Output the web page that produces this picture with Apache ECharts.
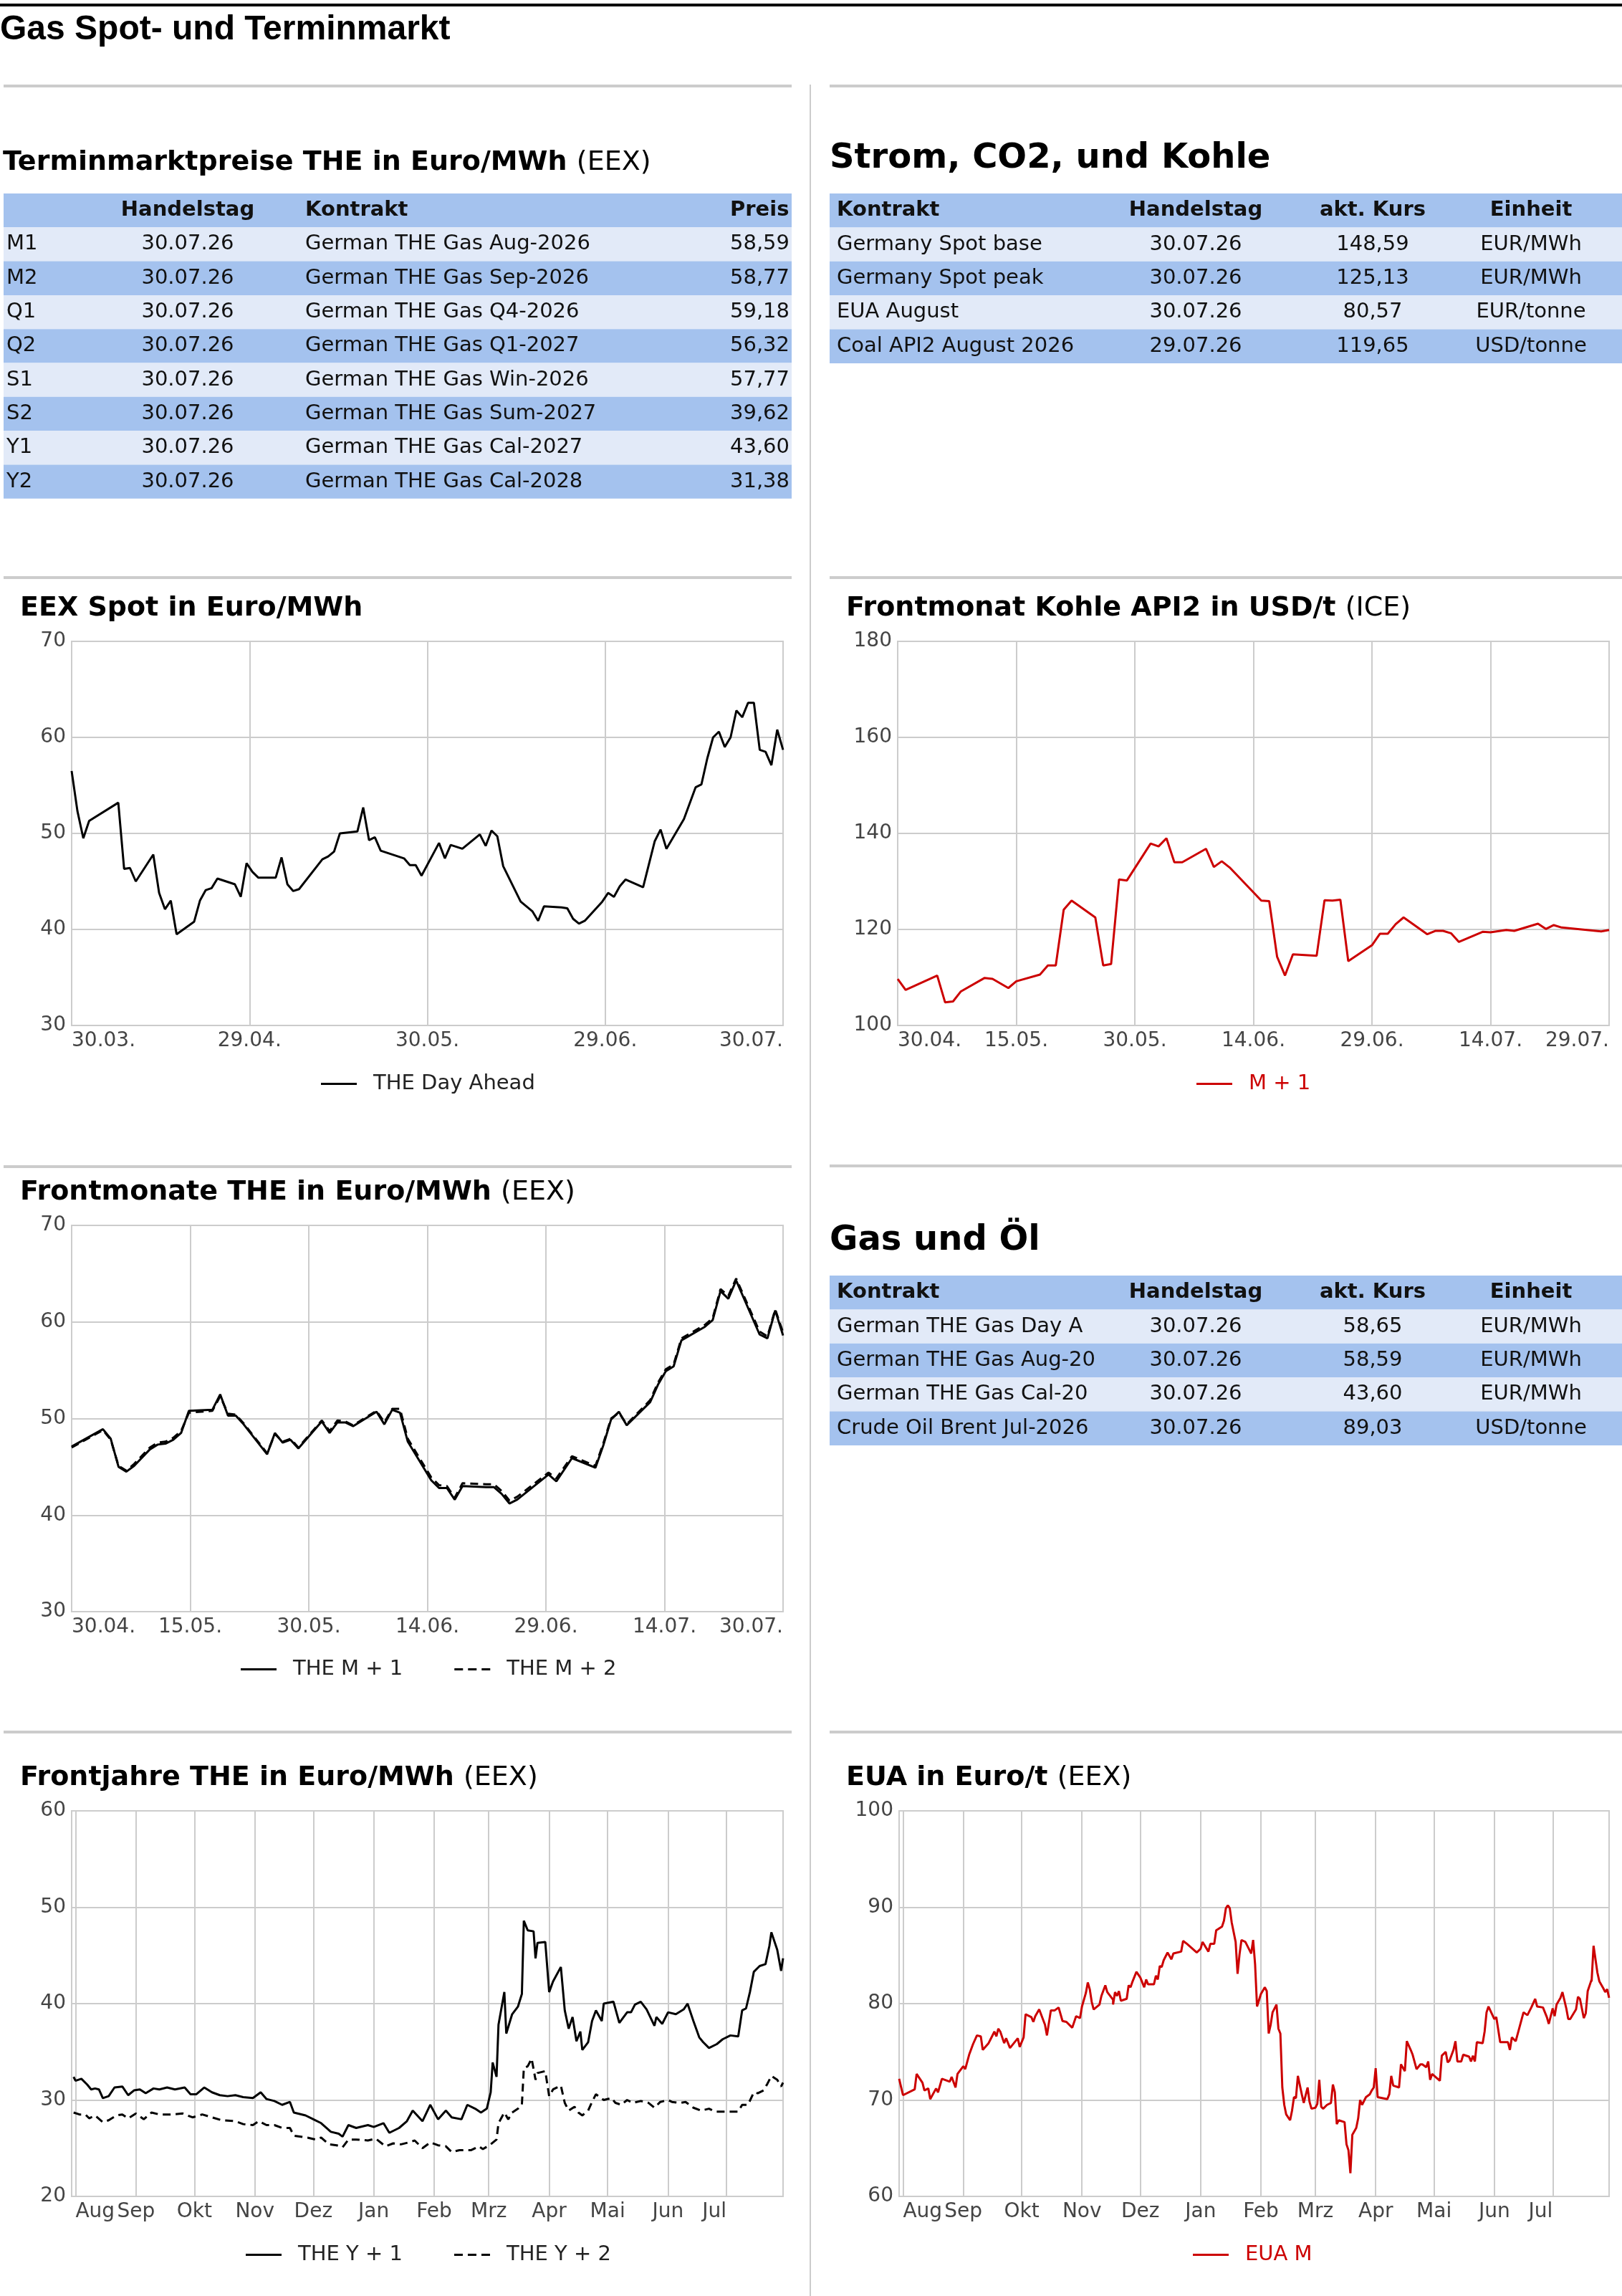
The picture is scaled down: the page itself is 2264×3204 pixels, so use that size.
<!DOCTYPE html>
<html>
<head>
<meta charset="utf-8">
<title>Gas Spot- und Terminmarkt</title>
<script src="https://cdn.jsdelivr.net/npm/echarts@6/dist/echarts.min.js"></script>
<style>
html, body { margin: 0; padding: 0; background: #fff; }
#main { width: 2264px; height: 3204px; }
</style>
</head>
<body>
<div id="main"></div>
<script>
// ---------- Tabellen ----------
var termHeader = ['', 'Handelstag', 'Kontrakt', 'Preis'];
var termLabel = ['M1', 'M2', 'Q1', 'Q2', 'S1', 'S2', 'Y1', 'Y2'];
var termDatum = ['30.07.26', '30.07.26', '30.07.26', '30.07.26', '30.07.26', '30.07.26', '30.07.26', '30.07.26'];
var termKontrakt = ['German THE Gas Aug-2026', 'German THE Gas Sep-2026', 'German THE Gas Q4-2026', 'German THE Gas Q1-2027',
    'German THE Gas Win-2026', 'German THE Gas Sum-2027', 'German THE Gas Cal-2027', 'German THE Gas Cal-2028'];
var termPreis = ['58,59', '58,77', '59,18', '56,32', '57,77', '39,62', '43,60', '31,38'];

var kursHeader = ['Kontrakt', 'Handelstag', 'akt. Kurs', 'Einheit'];
var stromKontrakt = ['Germany Spot base', 'Germany Spot peak', 'EUA August', 'Coal API2 August 2026'];
var stromDatum = ['30.07.26', '30.07.26', '30.07.26', '29.07.26'];
var stromKurs = ['148,59', '125,13', '80,57', '119,65'];
var stromEinheit = ['EUR/MWh', 'EUR/MWh', 'EUR/tonne', 'USD/tonne'];

var gasKontrakt = ['German THE Gas Day Ahead', 'German THE Gas Aug-2026', 'German THE Gas Cal-2027', 'Crude Oil Brent Jul-2026'];
var gasDatum = ['30.07.26', '30.07.26', '30.07.26', '30.07.26'];
var gasKurs = ['58,65', '58,59', '43,60', '89,03'];
var gasEinheit = ['EUR/MWh', 'EUR/MWh', 'EUR/MWh', 'USD/tonne'];

// ---------- Charts: x = Tage seit Startdatum ----------
var monate = ['Jan', 'Feb', 'Mrz', 'Apr', 'Mai', 'Jun', 'Jul', 'Aug', 'Sep', 'Okt', 'Nov', 'Dez'];

// EEX Spot, ab 30.03.2026
var spotTage = [0, 1, 2, 3, 8, 9, 10, 11, 14, 15, 16, 17, 18, 21, 22, 23, 24, 25, 28, 29, 30, 31, 32, 35, 36, 37, 38, 39,
    43, 44, 45, 46, 49, 50, 51, 52, 53, 57, 58, 59, 60, 63, 64, 65, 67, 70, 71, 72, 73, 74, 77, 79, 80, 81, 84, 85, 86, 87, 88,
    91, 92, 93, 94, 95, 98, 100, 101, 102, 105, 107, 108, 109, 110, 111, 112, 113, 114, 115, 116, 117, 118, 119, 120, 121, 122];
var spotDayAhead = [56.5, 52.3, 49.5, 51.3, 53.2, 46.3, 46.4, 45.0, 47.8, 43.8, 42.1, 43.0, 39.5, 40.8, 43.0, 44.1, 44.3, 45.3, 44.7, 43.4, 46.9, 46.0, 45.4, 45.4, 47.5, 44.7, 44.0, 44.2,
    47.3, 47.6, 48.1, 50.0, 50.2, 52.7, 49.3, 49.6, 48.2, 47.4, 46.7, 46.7, 45.6, 49.0, 47.4, 48.8, 48.4, 49.9, 48.7, 50.3, 49.7, 46.6, 42.9, 41.9, 40.9, 42.4, 42.3, 42.2, 41.1, 40.6, 40.9,
    42.9, 43.8, 43.4, 44.5, 45.2, 44.4, 49.2, 50.4, 48.4, 51.5, 54.8, 55.1, 57.8, 60.0, 60.6, 59.0, 60.0, 62.8, 62.1, 63.6, 63.6, 58.7, 58.5, 57.1, 60.8, 58.7];

// Kohle API2 Frontmonat, ab 30.04.2026
var kohleTage = [0, 1, 5, 6, 7, 8, 11, 12, 14, 15, 18, 19, 20, 21, 22, 25, 26, 27, 28, 29, 32, 33, 34, 35, 36, 39, 40, 41, 42,
    46, 47, 48, 49, 50, 53, 54, 55, 56, 57, 60, 61, 62, 63, 64, 67, 68, 69, 70, 71, 74, 75, 77, 78, 81, 82, 83, 84, 89, 90];
var kohleM1 = [109.7, 107.4, 110.4, 104.8, 105.0, 107.1, 109.9, 109.7, 107.8, 109.2, 110.6, 112.5, 112.5, 124.1, 126.0, 122.5, 112.5, 112.8, 130.4, 130.2, 137.9, 137.3, 139.0, 134.0, 134.0, 136.8, 133.0, 134.2, 132.9,
    126.0, 125.9, 114.3, 110.4, 114.8, 114.5, 126.1, 126.0, 126.2, 113.4, 116.7, 119.1, 119.1, 121.1, 122.5, 119.0, 119.7, 119.7, 119.2, 117.4, 119.5, 119.4, 119.9, 119.7, 121.2, 120.1, 120.9, 120.4, 119.6, 119.9];

// Frontmonate THE, ab 30.04.2026
var frontTage = [0, 4, 5, 6, 7, 8, 10, 11, 12, 13, 14, 15, 18, 19, 20, 21, 22, 25, 26, 27, 28, 29, 32, 33, 34, 35, 36, 39, 40, 41, 42, 43,
    46, 47, 48, 49, 50, 53, 54, 55, 56, 57, 61, 62, 64, 67, 68, 69, 70, 71, 74, 75, 76, 77, 78, 81, 82, 83, 84, 85, 88, 89, 90, 91];
var frontM1 = [47.1, 48.9, 47.9, 45.0, 44.5, 45.1, 46.8, 47.3, 47.4, 47.8, 48.5, 50.8, 50.9, 52.5, 50.3, 50.3, 49.4, 46.3, 48.5, 47.5, 47.8, 46.9, 49.7, 48.5, 49.6, 49.6, 49.2, 50.7, 49.4, 50.9, 50.6, 47.6,
    43.6, 42.8, 42.8, 41.6, 43.0, 42.9, 42.9, 42.2, 41.2, 41.6, 44.2, 43.5, 45.9, 44.9, 47.2, 49.9, 50.7, 49.3, 51.7, 53.5, 54.9, 55.4, 58.1, 59.5, 60.2, 63.2, 62.4, 64.3, 58.7, 58.3, 61.2, 58.6];
var frontM2 = [47.0, 48.8, 47.8, 45.1, 44.6, 45.3, 47.0, 47.5, 47.6, 48.0, 48.7, 50.6, 50.8, 52.3, 50.5, 50.4, 49.5, 46.4, 48.4, 47.6, 47.9, 47.0, 49.8, 48.7, 49.8, 49.7, 49.3, 50.8, 49.6, 51.0, 51.0, 47.9,
    43.9, 43.1, 43.0, 41.8, 43.3, 43.2, 43.2, 42.5, 41.5, 41.9, 44.4, 43.8, 46.1, 45.1, 47.4, 50.0, 50.6, 49.4, 51.9, 53.7, 55.1, 55.6, 58.3, 59.7, 60.4, 63.4, 62.7, 64.5, 59.0, 58.5, 61.3, 58.9];

// Frontjahre THE, ab 30.07.2025
var jahrY1Tage = [1, 2, 5, 8, 10, 12, 14, 16, 19, 22, 26, 29, 32, 35, 38, 42, 45, 49, 53, 58, 61, 64, 68, 72, 76, 80, 84, 88, 93, 97,
    100, 104, 108, 112, 114, 120, 124, 128, 133, 137, 139, 142, 146, 152, 155, 160, 163, 168, 172, 175, 180, 184, 188, 192, 195, 200,
    203, 207, 210, 213, 215, 216, 218, 219, 222, 223, 226, 229, 231, 232, 234, 237, 238, 239, 243, 245, 247, 251, 253, 255, 257, 259,
    261, 262, 265, 267, 269, 272, 273, 278, 281, 285, 287, 289, 292, 295, 299, 300, 303, 306, 310, 314, 316, 319, 322, 324, 327, 331,
    334, 338, 342, 344, 346, 348, 350, 353, 356, 358, 359, 362, 364, 365];
var jahrY1 = [32.4, 32.0, 32.2, 31.6, 31.1, 31.2, 31.1, 30.2, 30.4, 31.3, 31.4, 30.5, 31.0, 31.1, 30.7, 31.2, 31.1, 31.3, 31.1, 31.3, 30.6, 30.6, 31.3, 30.8, 30.5, 30.4, 30.5, 30.3, 30.2, 30.8,
    30.1, 29.9, 29.5, 29.8, 28.7, 28.4, 28.0, 27.6, 26.7, 26.5, 26.2, 27.4, 27.1, 27.4, 27.2, 27.6, 26.6, 27.1, 27.8, 28.9, 27.8, 29.5, 28.0, 28.9, 28.2, 28.0,
    29.5, 29.1, 28.7, 29.1, 30.8, 33.9, 32.4, 37.8, 41.2, 36.9, 38.9, 39.7, 41.0, 48.6, 47.6, 47.5, 44.7, 46.3, 46.4, 41.2, 42.3, 43.8, 39.3, 37.4, 38.6, 36.1,
    37.1, 35.2, 36.0, 38.2, 39.3, 38.2, 40.0, 40.2, 38.0, 39.1, 39.1, 39.9, 40.2, 39.4, 37.7, 38.6, 37.9, 39.1, 38.9, 39.4, 40.0, 38.2, 36.5, 36.0, 35.4, 35.8,
    36.3, 36.7, 36.6, 39.3, 39.5, 41.2, 43.3, 43.9, 44.1, 46.0, 47.4, 45.6, 43.4, 44.7];
var jahrY2Tage = [1, 4, 7, 9, 12, 16, 19, 23, 26, 29, 33, 37, 41, 45, 51, 57, 62, 67, 72, 77, 84, 88, 93, 96, 100, 104, 108, 112, 114, 121,
    125, 128, 132, 136, 139, 142, 146, 152, 156, 161, 165, 169, 173, 176, 180, 184, 188, 192, 195, 199, 205, 209, 211, 215, 218, 219,
    222, 224, 226, 229, 231, 232, 234, 236, 238, 239, 243, 245, 247, 251, 253, 255, 258, 260, 262, 265, 267, 269, 273, 277, 279, 282,
    285, 288, 292, 296, 299, 302, 306, 308, 312, 315, 319, 323, 327, 330, 334, 338, 342, 344, 347, 350, 352, 355, 357, 359, 362, 364, 365];
var jahrY2 = [28.7, 28.5, 28.5, 28.1, 28.4, 27.7, 27.9, 28.4, 28.5, 28.1, 28.6, 28.0, 28.7, 28.5, 28.5, 28.6, 28.2, 28.5, 28.2, 27.9, 27.8, 27.5, 27.4, 27.8, 27.4, 27.4, 27.1, 27.1, 26.3, 26.1,
    25.9, 26.1, 25.4, 25.3, 25.1, 25.9, 25.9, 25.8, 26.0, 25.2, 25.5, 25.4, 25.6, 25.8, 25.0, 25.6, 25.3, 25.2, 24.6, 24.8, 24.8, 25.2, 24.9, 25.4, 25.9, 27.6,
    28.7, 28.0, 28.7, 29.1, 29.5, 33.3, 33.5, 34.3, 32.1, 32.8, 33.0, 30.4, 31.1, 31.5, 29.7, 28.9, 29.3, 28.7, 28.4, 28.9, 29.8, 30.6, 30.0, 30.2, 29.7, 29.5,
    30.0, 29.7, 29.9, 29.7, 29.2, 29.8, 30.0, 29.8, 29.7, 29.8, 29.2, 28.9, 29.1, 28.8, 28.8, 28.8, 28.8, 29.5, 29.5, 30.8, 30.7, 31.0, 31.7, 32.5, 32.1, 31.4, 31.8];

// EUA, ab 30.07.2025
var euaTage = [0, 2, 8, 9, 12, 13, 15, 16, 19, 20, 22, 26, 27, 29, 30, 33, 34, 36, 38, 40, 42, 43, 46, 47, 49, 50, 51, 52, 54, 55, 57,
    61, 62, 64, 65, 68, 69, 70, 72, 75, 76, 78, 80, 82, 84, 86, 89, 91, 93, 94, 96, 97, 98, 99, 100, 103, 104, 106, 107, 110, 110,
    111, 112, 113, 114, 117, 118, 119, 120, 122, 124, 126, 127, 128, 131, 132, 133, 134, 135, 136, 138, 140, 141, 145, 146, 148,
    153, 155, 156, 159, 160, 162, 163, 166, 167, 168, 169, 170, 171, 173, 174, 175, 176, 178, 180, 181, 182, 183, 184, 186, 188,
    189, 190, 191, 192, 194, 195, 196, 197, 198, 199, 201, 202, 203, 204, 205, 207, 208, 210, 211, 212, 214, 215, 216, 217, 218,
    220, 222, 223, 224, 225, 226, 229, 230, 231, 232, 233, 235, 236, 237, 238, 240, 242, 243, 244, 245, 246, 251, 252, 253, 254,
    257, 258, 260, 261, 263, 264, 266, 268, 269, 271, 272, 273, 274, 278, 279, 281, 282, 283, 285, 286, 287, 289, 290, 293, 294,
    295, 296, 297, 300, 301, 302, 303, 306, 307, 309, 313, 314, 315, 317, 321, 323, 325, 327, 328, 331, 333, 334, 336, 337, 338,
    340, 341, 343, 344, 345, 348, 349, 350, 352, 353, 354, 356, 356, 357, 359, 360, 362, 363, 364, 365];
var euaM = [72.2, 70.5, 71.1, 72.7, 71.8, 71.0, 71.2, 70.1, 71.2, 70.8, 72.2, 71.9, 72.4, 71.3, 72.7, 73.5, 73.2, 74.7, 75.8, 76.7, 76.6, 75.2, 75.9, 76.3, 77.1, 76.6, 77.4, 77.1, 75.9, 76.4, 75.4,
    76.4, 75.5, 76.5, 78.9, 78.6, 78.1, 78.7, 79.4, 77.8, 76.7, 79.3, 79.3, 79.6, 78.2, 78.1, 77.5, 78.7, 78.5, 79.7, 81.1, 82.2, 81.5, 80.2, 79.4, 79.9, 80.8, 81.9, 81.2, 80.4, 79.9,
    81.2, 80.8, 81.3, 80.3, 80.5, 81.9, 81.7, 82.3, 83.3, 82.7, 81.7, 82.5, 82.0, 82.0, 82.9, 82.5, 83.9, 83.8, 84.5, 85.3, 84.6, 85.2, 85.4, 86.5, 86.2,
    85.3, 85.7, 86.4, 85.4, 86.2, 86.2, 87.6, 88.0, 88.6, 89.9, 90.2, 89.9, 88.4, 86.4, 83.1, 85.1, 86.6, 86.4, 85.6, 85.2, 86.6, 84.1, 79.7, 81.0, 81.7,
    81.3, 76.9, 77.8, 79.1, 79.9, 77.4, 76.9, 71.3, 69.5, 68.5, 67.9, 68.9, 70.3, 70.2, 72.5, 70.6, 69.7, 71.3, 69.8, 69.1, 69.2, 69.6, 72.1, 69.3, 69.1,
    69.5, 69.7, 71.6, 70.8, 67.5, 67.9, 67.7, 65.4, 64.8, 62.4, 66.4, 67.1, 68.1, 70.0, 69.5, 70.3, 70.6, 71.0, 71.3, 73.3, 70.3, 70.1, 70.6, 72.5, 71.5,
    71.3, 73.7, 73.0, 76.1, 75.2, 74.7, 73.2, 73.7, 73.7, 73.4, 74.0, 72.1, 72.7, 72.0, 74.6, 75.0, 73.9, 74.1, 75.2, 76.1, 74.0, 74.0, 74.7, 74.5, 74.0,
    74.6, 74.0, 76.0, 75.9, 77.1, 79.1, 79.7, 78.4, 78.6, 76.0, 76.0, 75.2, 76.5, 76.1, 79.1, 78.8, 79.6, 80.5, 79.7, 79.6, 78.6, 77.9, 79.5, 78.7, 79.9,
    80.6, 81.2, 79.5, 78.4, 78.4, 79.4, 80.7, 80.5, 78.5, 79.0, 81.3, 82.5, 82.3, 86.0, 83.2, 82.3, 81.6, 81.2, 81.5, 80.6];

// ---------- Hilfsfunktionen ----------
var FONT = "'DejaVu Sans', sans-serif";
var DAY = 86400000;
var DARK = '#a4c2ee';
var LIGHT = '#e2eaf8';
var GRID_C = '#cccccc';
var RED = '#cc0000';
// Legenden-Symbole: durchgezogene und gestrichelte Linie
var ICON_SOLID = 'path://M0,0H50V3H0Z';
var ICON_DASH = 'path://M0,0H12V3H0Z M19,0H31V3H19Z M38,0H50V3H38Z';

function pad(n) { return (n < 10 ? '0' : '') + n; }

function dayLabel(base) {
    return function (v) {
        var d = new Date(base + Math.floor(v + 1e-6) * DAY);
        return pad(d.getUTCDate()) + '.' + pad(d.getUTCMonth() + 1) + '.';
    };
}

function monthStarts(base, max) {
    var d = new Date(base);
    var y = d.getUTCFullYear(), m = d.getUTCMonth() + 1;
    var res = [];
    while (true) {
        var off = Math.round((Date.UTC(y, m, 1) - base) / DAY);
        if (off > max) break;
        res.push(off);
        m++;
    }
    return res;
}

function pairs(xs, ys) {
    var res = [];
    for (var i = 0; i < xs.length; i++) res.push([xs[i], ys[i]]);
    return res;
}

function dayAxis(gi, base, max, interval) {
    return {
        type: 'value', gridIndex: gi, min: 0, max: max, interval: interval,
        axisLine: { show: true, lineStyle: { color: GRID_C, width: 2 } },
        axisTick: { show: false },
        splitLine: { show: true, lineStyle: { color: GRID_C, width: 2 } },
        axisLabel: {
            fontSize: 28, color: '#444', fontFamily: FONT, margin: 8,
            alignMinLabel: 'left', alignMaxLabel: 'right',
            formatter: dayLabel(base)
        }
    };
}

function monthAxis(gi, base, max) {
    var starts = monthStarts(base, max);
    return {
        type: 'value', gridIndex: gi, min: 0, max: max,
        axisLine: { show: true, lineStyle: { color: GRID_C, width: 2 } },
        axisTick: { show: false, customValues: starts },
        splitLine: { show: true, lineStyle: { color: GRID_C, width: 2 } },
        axisLabel: {
            fontSize: 28, color: '#444', fontFamily: FONT, margin: 8,
            customValues: starts,
            alignMinLabel: 'left', alignMaxLabel: 'right',
            formatter: function (v) {
                return monate[new Date(base + Math.round(v) * DAY).getUTCMonth()];
            }
        }
    };
}

function valAxis(gi, min, max, interval) {
    return {
        type: 'value', gridIndex: gi, min: min, max: max, interval: interval,
        axisLine: { show: true, lineStyle: { color: GRID_C, width: 2 } },
        axisTick: { show: false },
        splitLine: { show: true, lineStyle: { color: GRID_C, width: 2 } },
        axisLabel: { fontSize: 28, color: '#444', fontFamily: FONT, margin: 8 }
    };
}

function line(name, gi, xs, ys, color, dashed) {
    return {
        name: name, type: 'line', xAxisIndex: gi, yAxisIndex: gi,
        data: pairs(xs, ys), symbol: 'none', silent: true,
        lineStyle: { color: color, width: 3, type: dashed ? [11, 7] : 'solid' },
        itemStyle: { color: color }
    };
}

function legend(left, centerY, items, color) {
    return {
        left: left, top: centerY - 15, padding: 0, itemWidth: 50, itemHeight: 3, itemGap: 72,
        selectedMode: false, data: items,
        textStyle: { fontSize: 29, fontFamily: FONT, color: color || '#222', padding: [0, 0, 0, 18] }
    };
}

function grid(left, top, width, height) {
    return { left: left, top: top, width: width, height: height, show: true,
        borderColor: GRID_C, borderWidth: 2, containLabel: false };
}

function title(x, y, bold, normal, size) {
    return {
        type: 'text', x: x, y: y, z: 5, silent: true,
        style: {
            text: '{b|' + bold + '}' + (normal ? '{n|' + normal + '}' : ''),
            verticalAlign: 'middle', fill: '#000',
            rich: {
                b: { font: 'bold ' + size + 'px ' + FONT, fill: '#000' },
                n: { font: size + 'px ' + FONT, fill: '#000' }
            }
        }
    };
}

function table(x0, y0, w, rowH, header, columns, colDefs) {
    var els = [];
    var n = columns[0].length;
    for (var r = 0; r <= n; r++) {
        els.push({ type: 'rect', z: 1, silent: true,
            shape: { x: x0, y: y0 + r * rowH, width: w, height: rowH },
            style: { fill: r % 2 === 0 ? DARK : LIGHT } });
    }
    for (var c = 0; c < colDefs.length; c++) {
        var cd = colDefs[c];
        for (var k = 0; k <= n; k++) {
            var txt = k === 0 ? header[c] : columns[c][k - 1];
            if (!txt) continue;
            var st = { text: txt, font: (k === 0 ? 'bold ' : '') + '29px ' + FONT, fill: '#111',
                align: cd.align, verticalAlign: 'middle' };
            if (cd.clip) { st.width = cd.clip; st.overflow = 'truncate'; st.ellipsis = ''; }
            els.push({ type: 'text', z: 2, silent: true, x: cd.x, y: y0 + k * rowH + rowH / 2, style: st });
        }
    }
    return els;
}

function hline(x1, x2, y, h, color) {
    return { type: 'rect', z: 1, silent: true, shape: { x: x1, y: y, width: x2 - x1, height: h }, style: { fill: color } };
}

// ---------- Aufbau ----------
var baseSpot = Date.UTC(2026, 2, 30);
var baseMonat = Date.UTC(2026, 3, 30);
var baseJahr = Date.UTC(2025, 6, 30);

var graphics = [
    hline(0, 2264, 5, 4, '#000'),
    { type: 'text', x: 0, y: 42, z: 5, silent: true,
        style: { text: 'Gas Spot- und Terminmarkt', font: "bold 48px 'Liberation Sans', Arial, sans-serif",
            fill: '#000', verticalAlign: 'middle' } },
    hline(5, 1105, 118, 4, GRID_C), hline(1158, 2264, 118, 4, GRID_C),
    hline(5, 1105, 804, 4, GRID_C), hline(1158, 2264, 804, 4, GRID_C),
    hline(5, 1105, 1626, 4, GRID_C), hline(1158, 2264, 1625, 4, GRID_C),
    hline(5, 1105, 2415, 4, GRID_C), hline(1158, 2264, 2415, 4, GRID_C),
    { type: 'rect', z: 1, silent: true, shape: { x: 1130, y: 118, width: 2, height: 3086 }, style: { fill: GRID_C } },
    title(4, 227, 'Terminmarktpreise THE in Euro/MWh ', '(EEX)', 38),
    title(1158, 222, 'Strom, CO2, und Kohle', '', 48),
    title(1158, 1732, 'Gas und Öl', '', 48),
    title(28, 849, 'EEX Spot in Euro/MWh', '', 38),
    title(1181, 849, 'Frontmonat Kohle API2 in USD/t ', '(ICE)', 38),
    title(28, 1664, 'Frontmonate THE in Euro/MWh ', '(EEX)', 38),
    title(28, 2481, 'Frontjahre THE in Euro/MWh ', '(EEX)', 38),
    title(1181, 2481, 'EUA in Euro/t ', '(EEX)', 38)
];

graphics = graphics.concat(
    table(5, 270, 1100, 47.3, termHeader, [termLabel, termDatum, termKontrakt, termPreis], [
        { x: 9, align: 'left' }, { x: 262, align: 'center' }, { x: 426, align: 'left' }, { x: 1019, align: 'left', clip: 85 }
    ]),
    table(1158, 270, 1106, 47.4, kursHeader, [stromKontrakt, stromDatum, stromKurs, stromEinheit], [
        { x: 1168, align: 'left' }, { x: 1669, align: 'center' }, { x: 1916, align: 'center' }, { x: 2137, align: 'center' }
    ]),
    table(1158, 1780, 1106, 47.4, kursHeader, [gasKontrakt, gasDatum, gasKurs, gasEinheit], [
        { x: 1168, align: 'left', clip: 362 }, { x: 1669, align: 'center' }, { x: 1916, align: 'center' }, { x: 2137, align: 'center' }
    ])
);

var option = {
    animation: false,
    backgroundColor: '#fff',
    textStyle: { fontFamily: FONT },
    grid: [
        grid(100, 895, 993, 536),
        grid(1253, 895, 993, 536),
        grid(100, 1710, 993, 539),
        grid(100, 2527, 993, 538),
        grid(1255, 2527, 991, 538)
    ],
    xAxis: [
        dayAxis(0, baseSpot, 122, 30.5),
        dayAxis(1, baseMonat, 90, 15),
        dayAxis(2, baseMonat, 91, 91 / 6),
        monthAxis(3, baseJahr, 365),
        monthAxis(4, baseJahr, 365)
    ],
    yAxis: [
        valAxis(0, 30, 70, 10),
        valAxis(1, 100, 180, 20),
        valAxis(2, 30, 70, 10),
        valAxis(3, 20, 60, 10),
        valAxis(4, 60, 100, 10)
    ],
    legend: [
        legend(448, 1513, [{ name: 'THE Day Ahead', icon: ICON_SOLID }]),
        legend(1670, 1513, [{ name: 'M + 1', icon: ICON_SOLID }], RED),
        legend(336, 2330, [{ name: 'THE M + 1', icon: ICON_SOLID }, { name: 'THE M + 2', icon: ICON_DASH }]),
        legend(343, 3147, [{ name: 'THE Y + 1', icon: ICON_SOLID }, { name: 'THE Y + 2', icon: ICON_DASH }]),
        legend(1665, 3147, [{ name: 'EUA M', icon: ICON_SOLID }], RED)
    ],
    series: [
        line('THE Day Ahead', 0, spotTage, spotDayAhead, '#000', false),
        line('M + 1', 1, kohleTage, kohleM1, RED, false),
        line('THE M + 1', 2, frontTage, frontM1, '#000', false),
        line('THE M + 2', 2, frontTage, frontM2, '#000', true),
        line('THE Y + 1', 3, jahrY1Tage, jahrY1, '#000', false),
        line('THE Y + 2', 3, jahrY2Tage, jahrY2, '#000', true),
        line('EUA M', 4, euaTage, euaM, RED, false)
    ],
    graphic: graphics
};

var myChart = echarts.init(document.getElementById('main'));
myChart.setOption(option);
</script>
</body>
</html>
